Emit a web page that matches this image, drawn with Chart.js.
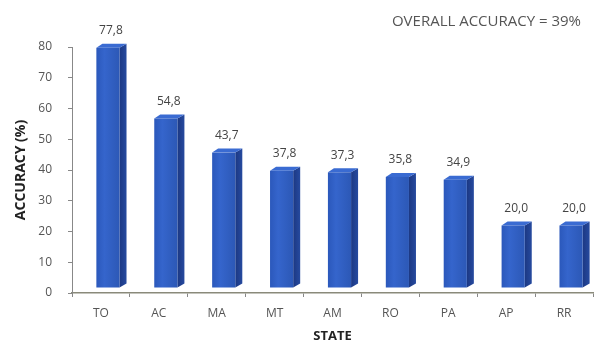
<!DOCTYPE html>
<html>
<head>
<meta charset="utf-8">
<script src="https://cdn.jsdelivr.net/npm/chart.js@4.4.1/dist/chart.umd.min.js"></script>
<style>
  html, body { margin: 0; padding: 0; background: #fff; }
  #wrap { width: 598px; height: 344px; }
</style>
</head>
<body>
<div id="wrap"><canvas id="accuracyChart" width="598" height="344"></canvas></div>
<script>
const states = ["TO", "AC", "MA", "MT", "AM", "RO", "PA", "AP", "RR"];
const accuracy = [77.8, 54.8, 43.7, 37.8, 37.3, 35.8, 34.9, 20.0, 20.0];
const yTicks = [0, 10, 20, 30, 40, 50, 60, 70, 80];
const overallText = "OVERALL ACCURACY = 39%";

const FONT = "'Open Sans', 'Liberation Sans', sans-serif";

// fake 3D look: front face shifted, plus a side and a top face
const bars3d = {
  id: "bars3d",
  afterDatasetsDraw(chart) {
    const ctx = chart.ctx;
    const meta = chart.getDatasetMeta(0);
    const dx = 7, dy = 6;      // shift of the front face
    const dd = 7, dr = 4;      // depth of the box
    ctx.save();
    meta.data.forEach((bar, i) => {
      const w = bar.width;
      const fl = bar.x - w / 2 + dx;
      const fr = bar.x + w / 2 + dx;
      const ft = bar.y - dy;
      const fb = bar.base - dy + 1;

      // side
      const sg = ctx.createLinearGradient(fr, 0, fr + dd, 0);
      sg.addColorStop(0, "#1c3883");
      sg.addColorStop(1, "#264a9f");
      ctx.fillStyle = sg;
      ctx.beginPath();
      ctx.moveTo(fr, ft);
      ctx.lineTo(fr + dd, ft - dr);
      ctx.lineTo(fr + dd, fb - dr);
      ctx.lineTo(fr, fb);
      ctx.closePath();
      ctx.fill();

      // top
      ctx.fillStyle = "#3a6bd2";
      ctx.beginPath();
      ctx.moveTo(fl, ft);
      ctx.lineTo(fl + dd - 1, ft - dr);
      ctx.lineTo(fr + dd, ft - dr);
      ctx.lineTo(fr, ft);
      ctx.closePath();
      ctx.fill();

      // front
      const fg = ctx.createLinearGradient(fl, 0, fr, 0);
      fg.addColorStop(0, "#2b58bb");
      fg.addColorStop(0.35, "#3565cc");
      fg.addColorStop(1, "#2c58b6");
      ctx.fillStyle = fg;
      ctx.fillRect(fl, ft, w, fb - ft);

      // value label
      ctx.fillStyle = "#444";
      ctx.font = "12px " + FONT;
      ctx.textAlign = "center";
      ctx.textBaseline = "middle";
      ctx.fillText(accuracy[i].toFixed(1).replace(".", ","), bar.x + dx + 3, ft - dr - 13);
    });

    // overall accuracy note
    ctx.fillStyle = "#555";
    ctx.font = "15px " + FONT;
    ctx.textAlign = "right";
    ctx.textBaseline = "middle";
    ctx.fillText(overallText, 581, 22);
    ctx.restore();
  },
};

new Chart(document.getElementById("accuracyChart"), {
  type: "bar",
  data: {
    labels: states,
    datasets: [
      {
        data: accuracy,
        backgroundColor: "rgba(0,0,0,0)",
        borderWidth: 0,
        barPercentage: 0.4,
        categoryPercentage: 1,
      },
    ],
  },
  options: {
    responsive: false,
    animation: false,
    layout: { padding: { top: 47, right: 5, left: 0, bottom: 0 } },
    plugins: { legend: { display: false }, tooltip: { enabled: false } },
    scales: {
      x: {
        grid: { drawOnChartArea: false, drawTicks: true, tickLength: 4, color: "#888", offset: true },
        border: { color: "#8a8a7a", width: 1.5 },
        ticks: { color: "#555", font: { family: FONT, size: 12 }, padding: 9, maxRotation: 0 },
        title: {
          display: true,
          text: "STATE",
          color: "#222",
          font: { family: FONT, size: 13, weight: "bold" },
          padding: { top: 2, bottom: 0 },
        },
        afterFit: (s) => { s.height = 51; },
      },
      y: {
        min: 0,
        max: 80,
        afterBuildTicks: (s) => { s.ticks = yTicks.map((v) => ({ value: v })); },
        grid: { drawOnChartArea: false, drawTicks: true, tickLength: 4, color: "#888" },
        border: { color: "#888" },
        ticks: { color: "#555", font: { family: FONT, size: 12 }, padding: 16 },
        title: {
          display: true,
          text: "ACCURACY (%)",
          color: "#222",
          font: { family: FONT, size: 14, weight: "bold" },
          padding: { top: 13, bottom: 0 },
        },
        afterFit: (s) => { s.width = 72; },
      },
    },
  },
  plugins: [bars3d],
});
</script>
</body>
</html>
